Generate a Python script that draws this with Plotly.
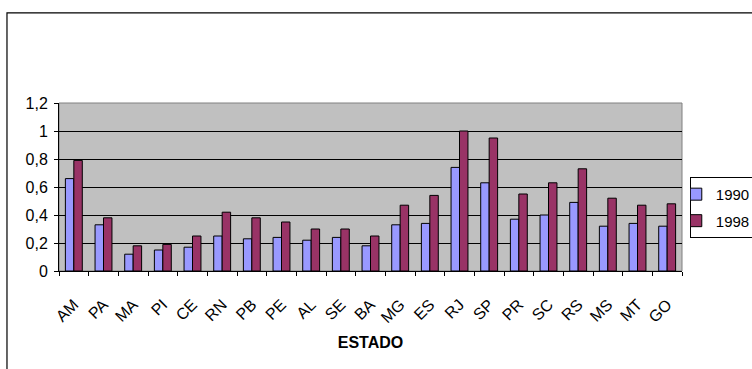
import plotly.graph_objects as go

# Estados e valores por ano
estados = ["AM", "PA", "MA", "PI", "CE", "RN", "PB", "PE", "AL", "SE",
           "BA", "MG", "ES", "RJ", "SP", "PR", "SC", "RS", "MS", "MT", "GO"]
valores_1990 = [0.66, 0.33, 0.12, 0.15, 0.17, 0.25, 0.23, 0.24, 0.22, 0.24,
                0.18, 0.33, 0.34, 0.74, 0.63, 0.37, 0.40, 0.49, 0.32, 0.34, 0.32]
valores_1998 = [0.79, 0.38, 0.18, 0.19, 0.25, 0.42, 0.38, 0.35, 0.30, 0.30,
                0.25, 0.47, 0.54, 1.00, 0.95, 0.55, 0.63, 0.73, 0.52, 0.47, 0.48]
y_ticks = [0, 0.2, 0.4, 0.6, 0.8, 1.0, 1.2]

FONT = "Liberation Sans, Arial, sans-serif"

fig = go.Figure()
fig.add_trace(go.Bar(
    x=estados, y=valores_1990, name="1990", legendgroup="a",
    marker=dict(color="#9999FF", line=dict(color="#000000", width=1)),
))
fig.add_trace(go.Bar(
    x=estados, y=valores_1998, name="1998", legendgroup="b",
    marker=dict(color="#993366", line=dict(color="#000000", width=1)),
))

# Moldura externa da área do gráfico
fig.add_shape(type="rect", xref="paper", yref="paper",
              x0=-0.0835, x1=1.2, y0=-0.8, y1=1.536,
              line=dict(color="#000000", width=1.2), fillcolor="rgba(0,0,0,0)",
              layer="above")
# Borda cinza da área de plotagem
fig.add_shape(type="rect", xref="paper", yref="paper",
              x0=0, x1=1, y0=0, y1=1,
              line=dict(color="#808080", width=1), fillcolor="rgba(0,0,0,0)",
              layer="below")

fig.update_layout(
    width=752, height=369,
    margin=dict(l=59, r=70, t=103, b=98, autoexpand=False),
    paper_bgcolor="#FFFFFF",
    plot_bgcolor="#C0C0C0",
    barmode="group",
    bargap=0.43,
    bargroupgap=0,
    separators=",.",
    font=dict(family=FONT, size=16, color="#000000"),
    showlegend=True,
    legend=dict(
        x=1.0125, xanchor="left", y=0.56, yanchor="top",
        bgcolor="#FFFFFF", bordercolor="#000000", borderwidth=1,
        font=dict(family=FONT, size=15, color="#000000"),
        traceorder="grouped", tracegroupgap=4,
        indentation=-15,
    ),
    xaxis=dict(
        type="category",
        tickson="boundaries",
        ticks="outside", ticklen=4, tickcolor="#000000",
        showline=True, linecolor="#000000", linewidth=1,
        tickangle=-45,
        tickfont=dict(family=FONT, size=16),
        ticklabelstandoff=17,
        showgrid=False,
        title=dict(text="<b>ESTADO</b>", font=dict(family=FONT, size=16), standoff=11),
    ),
    yaxis=dict(
        range=[0, 1.2],
        tickvals=y_ticks,
        ticks="outside", ticklen=4, tickcolor="#000000",
        showline=True, linecolor="#000000", linewidth=1,
        showgrid=True, gridcolor="#000000", gridwidth=1,
        zeroline=False,
        tickfont=dict(family=FONT, size=16),
        ticklabelstandoff=3,
    ),
)

fig.write_html("out.html")
